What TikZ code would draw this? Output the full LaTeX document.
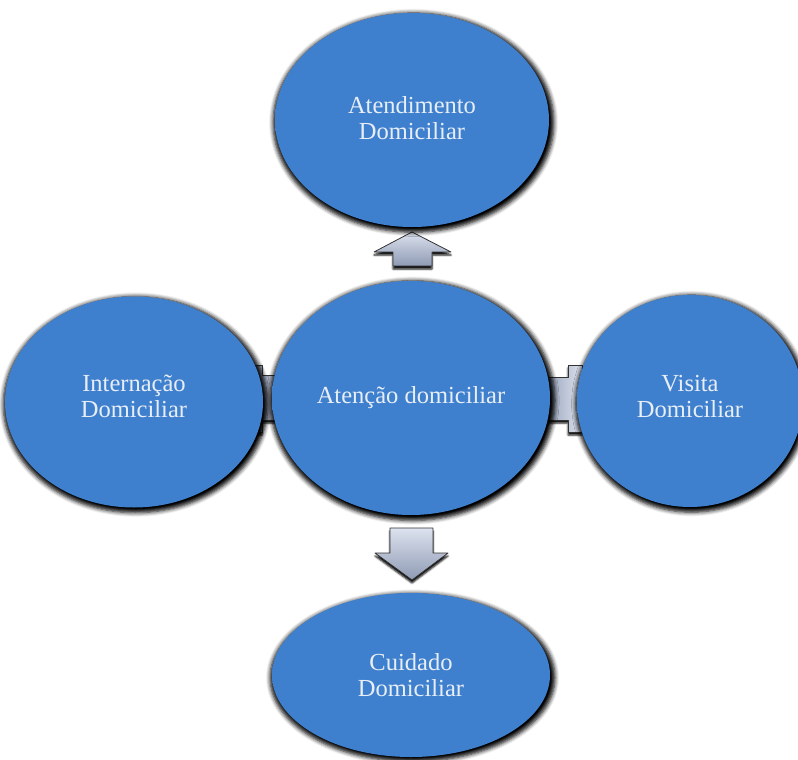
\documentclass[tikz,border=0pt]{standalone}
\usepackage{fontspec}
\setmainfont{Liberation Serif}
\usetikzlibrary{shapes.geometric,shadows.blur}
\definecolor{bubA}{HTML}{3F80CE}
\definecolor{bubB}{HTML}{3A76C2}
\definecolor{bubC}{HTML}{2A5A9E}
\definecolor{txtc}{HTML}{E8EEF6}
\definecolor{arrTop}{HTML}{DCE2EE}
\definecolor{arrBot}{HTML}{8E9AB4}
\pgfdeclareradialshading{bubshade}{\pgfpoint{0bp}{6bp}}{color(0bp)=(bubA); color(34bp)=(bubA); color(44bp)=(bubB); color(50bp)=(bubC); color(70bp)=(bubC)}
\tikzset{
  bubble/.style={ellipse, inner sep=0pt, shading=bubshade, text=txtc, align=center,
    font=\fontsize{24.5}{26}\selectfont,
    blur shadow={shadow xshift=1.5pt, shadow yshift=-2.5pt, shadow blur steps=5, shadow opacity=100, shadow scale=1.025, shadow blur radius=4pt}},
  blockarrow/.style={top color=arrTop, bottom color=arrBot, draw=black!80, line width=0.8pt, line join=round,
    blur shadow={shadow xshift=0pt, shadow yshift=-3pt, shadow blur steps=4, shadow opacity=100}},
  sidearrow/.style={left color=arrBot, right color=arrTop, draw=black!80, line width=0.8pt, line join=round,
    blur shadow={shadow xshift=0pt, shadow yshift=-3pt, shadow blur steps=4, shadow opacity=100}}
}
\begin{document}
\begin{tikzpicture}[x=1pt,y=-1pt]
\useasboundingbox (0,0) rectangle (798,760);
% block arrows (partly hidden behind the ellipses)
\path[blockarrow] (412,232) -- (451,252) -- (432,252) -- (432,266) -- (393,266) -- (393,252) -- (374,252) -- cycle;
\path[blockarrow] (390,528) -- (433,528) -- (433,553) -- (448,553) -- (412,580) -- (375,553) -- (390,553) -- cycle;
\path[sidearrow] (252,365) -- (262,365) -- (262,375) -- (290,375) -- (290,420) -- (262,420) -- (262,432) -- (252,432) -- cycle;
\path[sidearrow] (540,377) -- (568,377) -- (568,365) -- (582,365) -- (582,432) -- (568,432) -- (568,420) -- (540,420) -- cycle;
% ellipses
\node[bubble, minimum width=274pt, minimum height=214pt, text depth=4pt] (top) at (412,120) {Atendimento\\Domiciliar};
\node[bubble, minimum width=278pt, minimum height=234pt] (center) at (411,398) {Atenção domiciliar};
\node[bubble, minimum width=258pt, minimum height=211pt, text depth=12pt] (left) at (134,402) {Internação\\Domiciliar};
\node[bubble, minimum width=226pt, minimum height=212pt, text depth=9pt] (right) at (690,401) {Visita\\Domiciliar};
\node[bubble, minimum width=278pt, minimum height=164pt] (bottom) at (411,675) {Cuidado\\Domiciliar};
\end{tikzpicture}
\end{document}
